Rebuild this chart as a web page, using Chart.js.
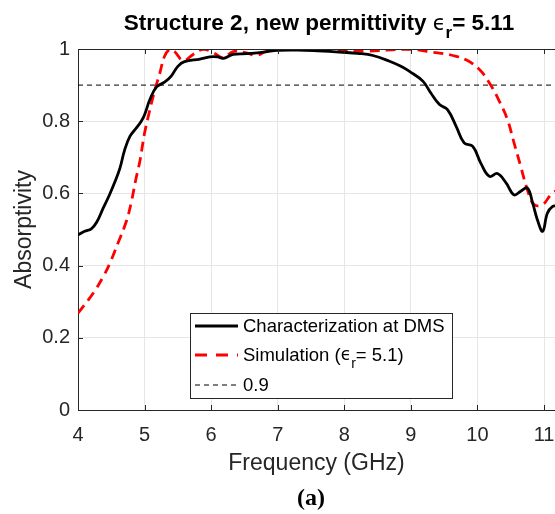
<!DOCTYPE html>
<html>
<head>
<meta charset="utf-8">
<script src="https://cdn.jsdelivr.net/npm/chart.js@4.4.1/dist/chart.umd.min.js"></script>
<style>
  html, body { margin: 0; padding: 0; background: #fff; }
  #wrap { width: 555px; height: 514px; position: relative; }
</style>
</head>
<body>
<div id="wrap"><canvas id="absorb"></canvas></div>
<script>
// measured data (Characterization at DMS)
const measFreq = [4.0, 4.1, 4.2, 4.28, 4.38, 4.47, 4.55, 4.63, 4.7, 4.78, 4.88, 4.95, 5.0, 5.08, 5.18, 5.3, 5.4, 5.5, 5.6, 5.83, 5.98, 6.1, 6.18, 6.33, 6.53, 6.73, 6.98, 7.3, 7.6, 7.98, 8.2, 8.43, 8.68, 8.85, 8.98, 9.18, 9.3, 9.43, 9.55, 9.68, 9.8, 9.93, 10.05, 10.18, 10.3, 10.43, 10.55, 10.65, 10.75, 10.83, 10.9, 10.98, 11.05, 11.13, 11.2];
const measAbs = [0.485, 0.495, 0.502, 0.52, 0.56, 0.595, 0.63, 0.67, 0.72, 0.758, 0.782, 0.80, 0.818, 0.86, 0.895, 0.908, 0.925, 0.952, 0.965, 0.972, 0.978, 0.978, 0.974, 0.985, 0.987, 0.99, 0.996, 0.997, 0.995, 0.991, 0.988, 0.982, 0.966, 0.952, 0.938, 0.911, 0.878, 0.846, 0.832, 0.786, 0.74, 0.73, 0.684, 0.647, 0.655, 0.629, 0.596, 0.606, 0.615, 0.573, 0.527, 0.495, 0.545, 0.564, 0.565];

// simulation (eps_r = 5.1)
const simFreq = [4.0, 4.23, 4.38, 4.48, 4.6, 4.73, 4.8, 4.87, 4.93, 5.0, 5.08, 5.15, 5.23, 5.3, 5.38, 5.45, 5.58, 5.73, 5.88, 6.03, 6.18, 6.33, 6.53, 6.68, 6.83, 7.23, 7.83, 8.33, 8.98, 9.33, 9.63, 9.83, 10.03, 10.18, 10.33, 10.45, 10.55, 10.65, 10.75, 10.85, 10.98, 11.1, 11.2];
const simAbs = [0.268, 0.324, 0.37, 0.407, 0.462, 0.525, 0.575, 0.64, 0.69, 0.767, 0.832, 0.883, 0.934, 0.98, 0.999, 0.993, 0.968, 0.985, 0.999, 0.99, 0.976, 0.993, 0.989, 0.982, 0.993, 0.999, 0.997, 0.994, 0.999, 0.991, 0.982, 0.97, 0.943, 0.906, 0.855, 0.805, 0.74, 0.675, 0.61, 0.569, 0.569, 0.596, 0.61];

const thresholdFreq = [4, 11.2];
const thresholdValue = 0.9;

const xTicks = [4, 5, 6, 7, 8, 9, 10, 11];
const yTicks = [0, 0.2, 0.4, 0.6, 0.8, 1];

const axisColor = '#262626';
const sans = '"Liberation Sans", Arial, sans-serif';

function toPoints(xs, ys) {
    return xs.map((x, i) => ({ x: x, y: ys[i] }));
}

// draws text pieces (some as subscripts) one after another
function drawRich(ctx, parts, x, y, align) {
    let total = 0;
    parts.forEach(p => { ctx.font = p.f; p.w = ctx.measureText(p.t).width; total += p.w; });
    let tx = align === 'center' ? x - total / 2 : x;
    ctx.textAlign = 'left';
    parts.forEach(p => {
        ctx.font = p.f;
        ctx.fillText(p.t, tx, y + p.dy);
        tx += p.w;
    });
}

// title with subscript, inner ticks, top frame line, legend and "(a)"
const decorations = {
    id: 'decorations',
    afterDraw(chart) {
        const ctx = chart.ctx;
        const area = chart.chartArea;
        const xs = chart.scales.x, ys = chart.scales.y;
        ctx.save();

        // frame top line
        ctx.strokeStyle = axisColor;
        ctx.lineWidth = 1;
        ctx.beginPath();
        ctx.moveTo(area.left, area.top + 0.5);
        ctx.lineTo(area.right, area.top + 0.5);
        ctx.stroke();

        // inward ticks
        ctx.beginPath();
        xTicks.forEach(v => {
            const px = Math.round(xs.getPixelForValue(v)) + 0.5;
            ctx.moveTo(px, area.bottom); ctx.lineTo(px, area.bottom - 5);
            ctx.moveTo(px, area.top); ctx.lineTo(px, area.top + 5);
        });
        yTicks.forEach(v => {
            const py = Math.round(ys.getPixelForValue(v)) + 0.5;
            ctx.moveTo(area.left, py); ctx.lineTo(area.left + 5, py);
        });
        ctx.stroke();

        // title
        ctx.fillStyle = '#000';
        ctx.textBaseline = 'alphabetic';
        const tFont = 'bold 22.5px ' + sans;
        drawRich(ctx, [
            { t: 'Structure 2, new permittivity ', f: tFont, dy: 0 },
            { t: 'ϵ', f: '21px "DejaVu Sans", sans-serif', dy: 0 },
            { t: 'r', f: 'bold 17px ' + sans, dy: 8 },
            { t: '= 5.11', f: tFont, dy: 0 }
        ], 319, 30, 'center');

        // legend
        const lx = 190, ly = 313, lw = 262, lh = 85;
        ctx.fillStyle = '#fff';
        ctx.fillRect(lx, ly, lw, lh);
        ctx.strokeStyle = axisColor;
        ctx.lineWidth = 1;
        ctx.strokeRect(lx + 0.5, ly + 0.5, lw, lh);

        const rows = [
            { y: 326, color: '#000', width: 2.8, dash: [] },
            { y: 355, color: '#ff0000', width: 2.8, dash: [12, 9] },
            { y: 385, color: '#000', width: 1, dash: [5, 4] }
        ];
        rows.forEach(r => {
            ctx.strokeStyle = r.color;
            ctx.lineWidth = r.width;
            ctx.setLineDash(r.dash);
            ctx.beginPath();
            ctx.moveTo(195, r.y);
            ctx.lineTo(238, r.y);
            ctx.stroke();
        });
        ctx.setLineDash([]);

        ctx.fillStyle = '#000';
        const lf = '18.5px ' + sans;
        ctx.font = lf;
        ctx.textBaseline = 'middle';
        ctx.textAlign = 'left';
        ctx.fillText('Characterization at DMS', 243, 327);
        drawRich(ctx, [
            { t: 'Simulation (', f: lf, dy: 0 },
            { t: 'ϵ', f: '17px "DejaVu Sans", sans-serif', dy: 0 },
            { t: 'r', f: '14px ' + sans, dy: 8 },
            { t: '= 5.1)', f: lf, dy: 0 }
        ], 243, 356, 'left');
        ctx.font = lf;
        ctx.fillText('0.9', 243, 386);

        // figure label
        ctx.font = 'bold 24px "Liberation Serif", "Times New Roman", serif';
        ctx.textAlign = 'center';
        ctx.fillText('(a)', 311, 499);

        ctx.restore();
    }
};

const ctx = document.getElementById('absorb').getContext('2d');
const absChart = new Chart(ctx, {
    type: 'line',
    data: {
        datasets: [{
            label: 'Characterization at DMS',
            data: toPoints(measFreq, measAbs),
            borderColor: '#000',
            borderWidth: 2.8,
            pointRadius: 0,
            tension: 0.4,
            fill: false
        }, {
            label: 'Simulation',
            data: toPoints(simFreq, simAbs),
            borderColor: '#ff0000',
            borderWidth: 2.8,
            borderDash: [10, 6],
            pointRadius: 0,
            tension: 0.4,
            fill: false
        }, {
            label: '0.9',
            data: thresholdFreq.map(f => ({ x: f, y: thresholdValue })),
            borderColor: '#000',
            borderWidth: 1,
            borderDash: [5, 4],
            pointRadius: 0,
            fill: false
        }]
    },
    options: {
        responsive: true,
        maintainAspectRatio: false,
        animation: false,
        layout: { padding: { top: 49, right: 0, left: 0, bottom: 0 } },
        plugins: {
            legend: { display: false },
            title: { display: false },
            tooltip: { enabled: false }
        },
        scales: {
            x: {
                type: 'linear',
                min: 4,
                max: 11.165,
                afterFit: s => { s.height = 104; s.paddingRight = 0; s.paddingLeft = 0; },
                ticks: {
                    stepSize: 1,
                    includeBounds: false,
                    autoSkip: false,
                    maxRotation: 0,
                    padding: 13,
                    color: axisColor,
                    font: { family: sans, size: 20 }
                },
                grid: { color: '#e6e6e6', drawTicks: false },
                border: { color: axisColor },
                title: {
                    display: true,
                    text: 'Frequency (GHz)',
                    color: axisColor,
                    font: { family: sans, size: 23 },
                    padding: { top: 0, bottom: 37 }
                }
            },
            y: {
                min: 0,
                max: 1,
                afterFit: s => { s.width = 78; s.paddingTop = 0; s.paddingBottom = 0; },
                ticks: {
                    stepSize: 0.2,
                    padding: 8,
                    color: axisColor,
                    font: { family: sans, size: 20 },
                    callback: v => String(Math.round(v * 10) / 10)
                },
                grid: { color: '#e6e6e6', drawTicks: false },
                border: { color: axisColor },
                title: {
                    display: true,
                    text: 'Absorptivity',
                    color: axisColor,
                    font: { family: sans, size: 23 },
                    padding: { top: 11, bottom: 0 }
                }
            }
        }
    },
    plugins: [decorations]
});
</script>
</body>
</html>
